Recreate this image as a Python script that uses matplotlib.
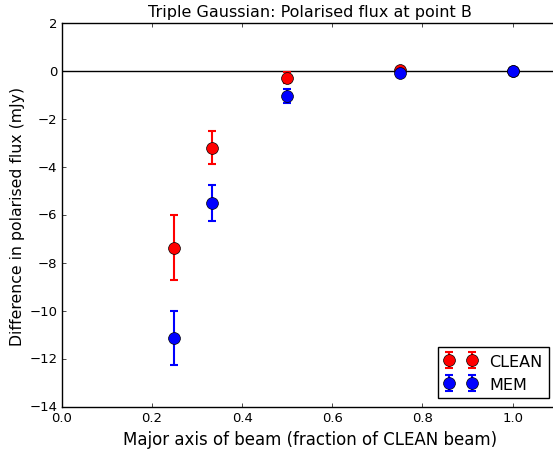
import matplotlib
matplotlib.use("Agg")
import matplotlib.pyplot as plt

plt.style.use("classic")

beam_fraction = [0.25, 0.333, 0.5, 0.75, 1.0]
clean_diff = [-7.37, -3.19, -0.28, 0.05, 0.0]
clean_err = [1.35, 0.68, 0.22, 0.05, 0.03]
mem_diff = [-11.12, -5.50, -1.03, -0.07, 0.0]
mem_err = [1.13, 0.75, 0.30, 0.05, 0.03]

W, H, DPI = 553, 452, 100
fig = plt.figure(figsize=(W / DPI, H / DPI), dpi=DPI, facecolor="white")
ax = fig.add_axes([61.7 / W, (452 - 408.0) / H, 496.0 / W, 384.0 / H])

ax.axhline(0, color="black", lw=1)
ax.errorbar(beam_fraction, clean_diff, yerr=clean_err, fmt="o", color="red",
            ecolor="red", mec="black", mfc="red", ms=8.5, elinewidth=1.5,
            capsize=3.2, capthick=1.5, label="CLEAN")
ax.errorbar(beam_fraction, mem_diff, yerr=mem_err, fmt="o", color="blue",
            ecolor="blue", mec="black", mfc="blue", ms=8.5, elinewidth=1.5,
            capsize=3.2, capthick=1.5, label="MEM")

ax.set_xlim(0, 1.1)
ax.set_ylim(-14, 2)
ax.tick_params(labelsize=9.5, length=3, pad=3)
ax.set_title("Triple Gaussian: Polarised flux at point B", fontsize=11.5)
ax.set_xlabel("Major axis of beam (fraction of CLEAN beam)", fontsize=12, labelpad=4)
ax.set_ylabel("Difference in polarised flux (mJy)", fontsize=11.3, labelpad=3)
ax.legend(loc="lower right", numpoints=2, fontsize=11.5, borderaxespad=0.55)

fig.savefig("out.png", dpi=DPI, facecolor="white")
